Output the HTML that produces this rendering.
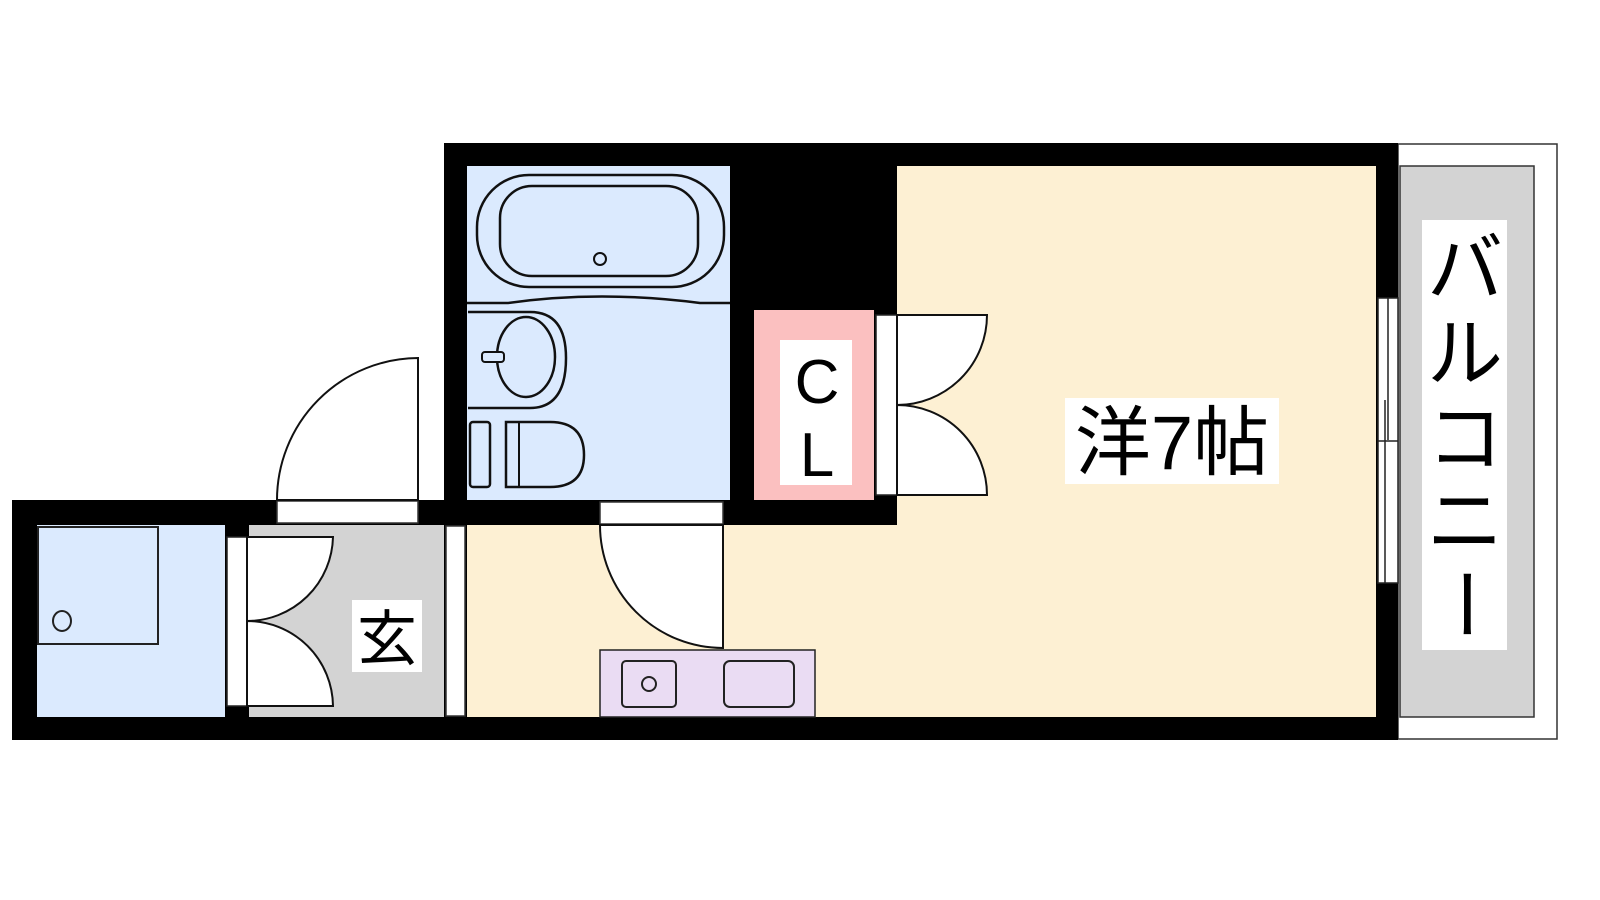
<!DOCTYPE html>
<html><head><meta charset="utf-8"><style>
html,body{margin:0;padding:0;background:#fff;width:1600px;height:900px;overflow:hidden}
svg{display:block}
text{font-family:"Liberation Sans","Noto Sans CJK JP",sans-serif;fill:#000}
</style></head><body>
<svg width="1600" height="900" viewBox="0 0 1600 900" xmlns="http://www.w3.org/2000/svg">
<!-- balcony -->
<rect x="1398" y="144" width="159" height="595" fill="#fff" stroke="#333" stroke-width="1.5"/>
<rect x="1400" y="166" width="134" height="551" fill="#d3d3d3" stroke="#333" stroke-width="1.5"/>
<rect x="1422" y="220" width="85" height="430" fill="#fff"/>
<g font-size="76" text-anchor="middle">
<text x="1465" y="295">バ</text>
<text x="1465" y="380">ル</text>
<text x="1465" y="465">コ</text>
<text x="1465" y="548">ニ</text>
<text x="0" y="0" transform="translate(1465,604) rotate(90) translate(0,27)">ー</text>
</g>
<!-- black walls -->
<polygon points="444,143 1398,143 1398,740 12,740 12,500 444,500" fill="#000"/>
<!-- rooms -->
<rect x="467" y="166" width="263" height="334" fill="#dbeafe"/>
<rect x="897" y="166" width="479" height="551" fill="#fdf0d3"/>
<rect x="467" y="525" width="909" height="192" fill="#fdf0d3"/>
<rect x="754" y="310" width="120" height="190" fill="#fbc0c0"/>
<rect x="37" y="525" width="188" height="192" fill="#dbeafe"/>
<rect x="249" y="525" width="195" height="192" fill="#d3d3d3"/>
<rect x="446" y="526" width="19" height="190" fill="#fff" stroke="#333" stroke-width="1.5"/>
<!-- toilet room fixture -->
<rect x="38" y="527" width="120" height="117" fill="none" stroke="#222" stroke-width="2"/>
<ellipse cx="62" cy="621" rx="9" ry="10" fill="none" stroke="#222" stroke-width="2"/>
<!-- genkan doors -->
<rect x="227" y="537" width="20" height="169" fill="#fff" stroke="#222" stroke-width="1.5"/>
<path d="M247,537 L333,537 A86,86 0 0 1 247,621 Z" fill="#fff" stroke="#111" stroke-width="2"/>
<path d="M247,706 L333,706 A86,86 0 0 0 247,621 Z" fill="#fff" stroke="#111" stroke-width="2"/>
<rect x="352" y="600" width="70" height="72" fill="#fff"/>
<text x="387" y="660" font-size="60" text-anchor="middle">玄</text>
<!-- entry door outside -->
<rect x="277" y="501" width="141" height="22" fill="#fff" stroke="#333" stroke-width="1.5"/>
<path d="M418,500 L418,358 A142,142 0 0 0 277,500 Z" fill="#fff" stroke="#111" stroke-width="2"/>
<!-- bath door -->
<rect x="600" y="502" width="123" height="22" fill="#fff" stroke="#333" stroke-width="1.5"/>
<path d="M723,525 L723,648 A123,123 0 0 1 600,525 Z" fill="#fff" stroke="#111" stroke-width="2"/>
<!-- kitchen -->
<rect x="600" y="650" width="215" height="67" fill="#eadcf3" stroke="#222" stroke-width="1.5"/>
<rect x="622" y="661" width="54" height="46" rx="4" fill="none" stroke="#222" stroke-width="2"/>
<circle cx="649" cy="684" r="7" fill="none" stroke="#222" stroke-width="2"/>
<rect x="724" y="661" width="70" height="46" rx="6" fill="none" stroke="#222" stroke-width="2"/>
<!-- bath fixtures -->
<rect x="477" y="175" width="247" height="112" rx="52" fill="none" stroke="#111" stroke-width="2.5"/>
<rect x="500" y="186" width="198" height="90" rx="32" fill="none" stroke="#111" stroke-width="2.5"/>
<circle cx="600" cy="259" r="6" fill="none" stroke="#111" stroke-width="2"/>
<path d="M467,303 L508,303 Q600,290 700,303 L730,303" fill="none" stroke="#111" stroke-width="2.5"/>
<path d="M468,312 L530,312 Q566,312 566,358 Q566,408 530,408 L468,408" fill="none" stroke="#111" stroke-width="2.5"/>
<ellipse cx="526" cy="357" rx="29" ry="40" fill="none" stroke="#111" stroke-width="2.5"/>
<rect x="482" y="352" width="22" height="10" rx="3" fill="#dbeafe" stroke="#111" stroke-width="2"/>
<rect x="470" y="422" width="20" height="65" rx="3" fill="none" stroke="#111" stroke-width="2.5"/>
<path d="M506,422 L550,422 Q584,422 584,455 Q584,487 550,487 L506,487 Z" fill="none" stroke="#111" stroke-width="2.5"/>
<line x1="519" y1="422" x2="519" y2="487" stroke="#111" stroke-width="2"/>
<!-- CL -->
<rect x="780" y="340" width="72" height="145" fill="#fff"/>
<text x="817" y="403" font-size="62" text-anchor="middle">C</text>
<text x="817" y="476" font-size="62" text-anchor="middle">L</text>
<rect x="876" y="315" width="21" height="180" fill="#fff" stroke="#222" stroke-width="1.5"/>
<path d="M897,315 L987,315 A90,90 0 0 1 897,405 Z" fill="#fff" stroke="#111" stroke-width="2"/>
<path d="M897,495 L987,495 A90,90 0 0 0 897,405 Z" fill="#fff" stroke="#111" stroke-width="2"/>
<!-- window -->
<rect x="1378" y="298" width="20" height="285" fill="#fff" stroke="#222" stroke-width="1.5"/>
<line x1="1388" y1="298" x2="1388" y2="440" stroke="#222" stroke-width="1.5"/>
<line x1="1385" y1="400" x2="1385" y2="583" stroke="#222" stroke-width="1.5"/>
<line x1="1378" y1="441" x2="1398" y2="441" stroke="#222" stroke-width="1.5"/>
<!-- main label -->
<rect x="1065" y="398" width="214" height="86" fill="#fff"/>
<text x="1172" y="469" font-size="76" text-anchor="middle">洋7帖</text>
</svg>
</body></html>
